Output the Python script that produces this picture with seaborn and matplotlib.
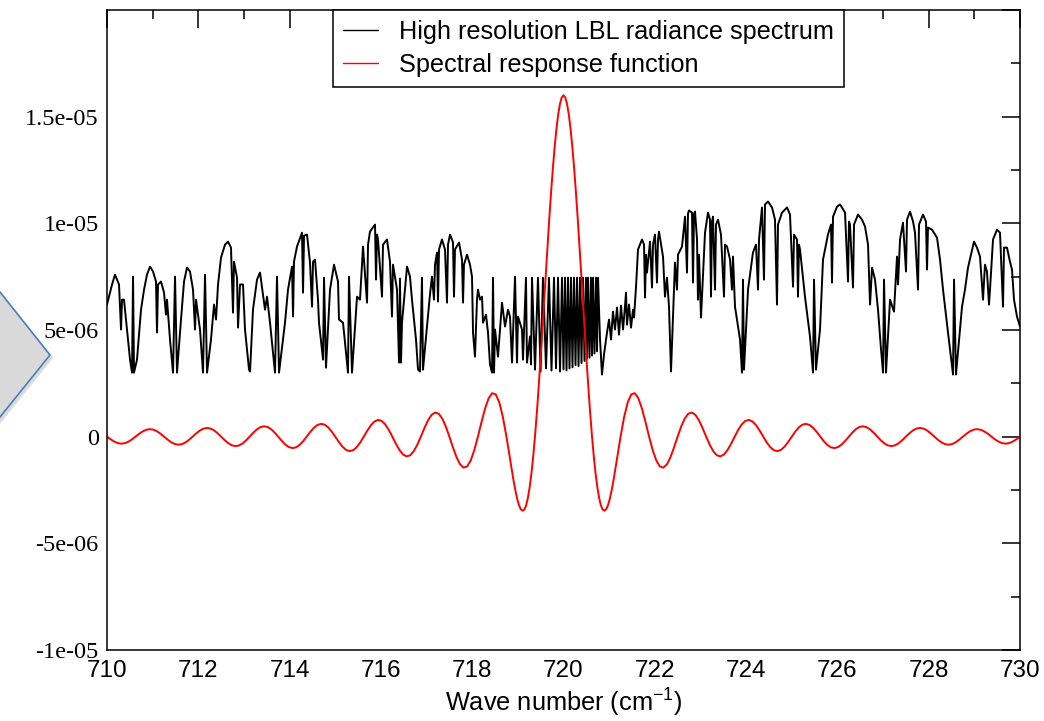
import matplotlib
matplotlib.use("Agg")
import matplotlib.pyplot as plt
import seaborn as sns
import pandas as pd
from matplotlib.patches import Polygon
from matplotlib.ticker import MultipleLocator, FixedLocator, FixedFormatter

# ---------------- data ----------------
# High resolution LBL radiance spectrum: wave number (cm-1) and radiance (units of 1e-6)
lbl_wn = [
    710.000, 710.110, 710.175, 710.263, 710.307, 710.329, 710.372, 710.438, 710.504, 710.548,
    710.570, 710.591, 710.657, 710.745, 710.811, 710.876, 710.942, 711.008, 711.073, 711.095,
    711.117, 711.183, 711.249, 711.292, 711.314, 711.380, 711.446, 711.490, 711.533, 711.621,
    711.687, 711.752, 711.818, 711.884, 711.928, 711.950, 712.037, 712.103, 712.147, 712.191,
    712.278, 712.344, 712.388, 712.432, 712.497, 712.585, 712.651, 712.716, 712.760, 712.782,
    712.848, 712.870, 712.914, 712.979, 713.023, 713.111, 713.133, 713.198, 713.286, 713.352,
    713.461, 713.505, 713.571, 713.680, 713.724, 713.768, 713.899, 713.965, 714.053, 714.075,
    714.096, 714.162, 714.272, 714.294, 714.316, 714.381, 714.447, 714.491, 714.513, 714.556,
    714.622, 714.644, 714.732, 714.754, 714.797, 714.885, 714.973, 715.060, 715.082, 715.170,
    715.279, 715.301, 715.367, 715.477, 715.542, 715.608, 715.696, 715.718, 715.761, 715.871,
    715.893, 715.915, 715.937, 716.024, 716.046, 716.134, 716.199, 716.243, 716.265, 716.353,
    716.397, 716.418, 716.440, 716.462, 716.572, 716.637, 716.681, 716.703,
    716.769, 716.813, 716.856, 716.900, 716.922, 717.010, 717.075, 717.119, 717.163, 717.185,
    717.229, 717.251, 717.273, 717.338, 717.404, 717.448, 717.470, 717.514, 717.580, 717.601,
    717.623, 717.711, 717.777, 717.799, 717.820, 717.886, 717.952, 717.996, 718.018, 718.061,
    718.105, 718.127, 718.171, 718.215, 718.237, 718.302, 718.346, 718.390, 718.434, 718.456,
    718.478, 718.500, 718.565, 718.653, 718.719, 718.784, 718.828, 718.872, 718.938, 718.981,
    719.003, 719.091, 719.113, 719.178, 719.200, 719.266, 719.288,
    719.310, 719.376, 719.441, 719.497, 719.551, 719.617, 719.682, 719.737, 719.792, 719.836,
    719.880, 719.924, 719.967, 720.000, 720.033, 720.066, 720.099, 720.131, 720.164, 720.197,
    720.230, 720.263, 720.296, 720.329, 720.362, 720.394, 720.427, 720.460, 720.493, 720.515,
    720.537, 720.570, 720.602, 720.625, 720.646, 720.679, 720.712, 720.734, 720.756,
    720.800, 720.843, 720.887, 720.953, 720.997, 721.041, 721.084, 721.128, 721.172, 721.216,
    721.260, 721.304, 721.347, 721.369, 721.391, 721.435, 721.479, 721.523, 721.545, 721.589,
    721.632, 721.720, 721.764, 721.786, 721.807, 721.829, 721.895, 721.939, 721.961, 722.004,
    722.048, 722.070, 722.092, 722.180, 722.223, 722.267, 722.311, 722.355, 722.399, 722.442,
    722.486, 722.508, 722.596, 722.662, 722.705, 722.727, 722.749, 722.815, 722.837, 722.859,
    722.881, 722.925, 722.946, 722.968, 723.012,
    723.100, 723.165, 723.209, 723.231, 723.253, 723.275, 723.319, 723.341, 723.385, 723.450,
    723.516, 723.538, 723.582, 723.648, 723.691, 723.713, 723.757, 723.867, 723.910, 723.932,
    723.954, 724.042, 724.151, 724.217, 724.261, 724.283, 724.348, 724.392, 724.414, 724.480,
    724.568, 724.633, 724.677, 724.699, 724.787, 724.896, 724.962, 725.028, 725.050, 725.115,
    725.137, 725.159, 725.181, 725.290, 725.400, 725.466, 725.488, 725.531, 725.619, 725.685,
    725.794, 725.860, 725.882, 725.904, 725.992, 726.057, 726.101, 726.167, 726.233, 726.254,
    726.276, 726.342, 726.364, 726.452, 726.539, 726.605, 726.671, 726.715, 726.759, 726.824,
    726.890, 726.956, 727.000, 727.021, 727.065, 727.153, 727.240, 727.306, 727.328, 727.372,
    727.437, 727.503, 727.525, 727.591, 727.657, 727.700, 727.766, 727.788, 727.876, 727.941,
    727.963, 727.985, 728.073, 728.182, 728.248, 728.314, 728.423, 728.533, 728.555, 728.598,
    728.730, 728.795, 728.861, 728.927, 728.993, 729.058, 729.124, 729.190, 729.233, 729.277,
    729.321, 729.343, 729.409, 729.496, 729.562, 729.628, 729.650, 729.715, 729.781, 729.825,
    729.869, 729.934, 730.000,
]
lbl_rad = [
    6.19, 7.13, 7.59, 7.13, 5.02, 6.42, 6.42, 5.02, 3.61, 3.00,
    7.50, 3.00, 3.61, 5.95, 6.89, 7.59, 7.97, 7.74, 7.27, 4.88,
    7.13, 7.27, 6.75, 5.72, 6.42, 4.55, 3.00, 7.50, 3.00, 5.49,
    7.27, 7.92, 7.74, 6.89, 5.02, 6.42, 5.02, 3.00, 7.59, 3.00,
    4.55, 6.19, 5.49, 7.13, 8.39, 9.00, 9.14, 8.86, 5.81, 8.20,
    7.45, 5.11, 7.13, 7.13, 5.02, 3.14, 3.05, 5.95, 7.36, 7.69,
    5.95, 6.56, 5.34, 3.00, 7.50, 3.00, 5.34, 6.89, 7.97, 5.63,
    8.20, 8.91, 9.56, 6.75, 9.42, 9.47, 8.16, 6.09, 8.20, 8.30,
    6.42, 5.34, 3.61, 7.45, 3.23, 6.89, 8.06, 7.27, 5.49, 5.34,
    3.00, 7.50, 3.00, 6.56, 6.42, 8.91, 6.28, 9.00, 9.61, 9.94,
    7.36, 9.47, 9.24, 6.56, 9.00, 9.24, 8.20, 5.63, 8.06, 6.89,
    3.47, 7.41, 3.47, 5.34, 7.97, 7.50, 6.42, 5.95,
    4.55, 3.14, 3.05, 7.45, 3.14, 5.16, 6.66, 7.50, 6.42, 8.06,
    8.63, 6.33, 8.77, 9.24, 8.77, 6.28, 9.00, 9.47, 9.10, 6.56,
    8.77, 9.10, 8.30, 6.28, 8.06, 8.53, 8.06, 7.50, 4.88, 3.75,
    6.42, 6.89, 6.42, 6.56, 5.34, 5.72, 4.88, 3.38, 3.00, 7.45,
    3.00, 5.02, 3.75, 6.28, 5.16, 5.95, 5.63, 3.47, 7.50, 3.47,
    5.63, 5.02, 3.61, 7.45, 3.47, 4.69, 3.38,
    7.45, 3.14, 7.45, 3.05, 7.45, 3.20, 7.45, 3.10, 7.45, 3.20,
    7.45, 3.05, 7.45, 3.15, 7.45, 3.10, 7.45, 3.20, 7.45, 3.25,
    7.45, 3.35, 7.45, 3.30, 7.45, 3.45, 7.45, 3.55, 7.45, 3.65,
    7.45, 3.70, 7.45, 3.80, 7.45, 3.90, 7.45, 4.00, 7.45,
    4.55, 2.91, 3.84, 4.88, 5.49, 4.55, 5.86, 5.02, 6.05, 4.78,
    6.14, 5.02, 6.09, 6.75, 5.25, 6.19, 5.11, 5.95, 5.58, 7.03,
    8.77, 9.24, 9.00, 6.52, 8.53, 7.69, 9.14, 6.99, 9.00, 9.47,
    7.22, 9.24, 9.61, 8.44, 6.56, 7.45, 6.09, 3.05, 5.63, 8.16,
    6.89, 8.53, 8.91, 10.31, 7.69, 10.45, 10.60, 10.50, 7.22, 10.45,
    10.55, 9.24, 6.42, 8.53, 5.58,
    9.56, 10.50, 10.17, 6.56, 10.08, 10.31, 6.89, 9.94, 10.17, 9.47,
    6.56, 9.00, 8.91, 8.30, 6.89, 8.44, 6.09, 4.55, 3.00, 7.36,
    3.14, 6.89, 8.63, 9.00, 6.89, 9.24, 10.74, 7.36, 10.88, 11.02,
    10.74, 10.17, 6.19, 9.94, 10.50, 10.74, 10.41, 7.03, 9.47, 9.24,
    6.56, 9.00, 8.77, 6.56, 4.69, 3.00, 7.36, 3.14, 5.02, 8.30,
    9.47, 9.94, 7.22, 10.31, 10.78, 10.88, 10.74, 10.50, 7.27, 10.08,
    9.94, 6.99, 9.94, 10.41, 10.17, 9.85, 9.00, 6.19, 7.92, 7.36,
    5.95, 4.08, 3.00, 7.36, 3.00, 6.42, 5.86, 8.44, 7.13, 9.24,
    10.03, 7.74, 10.17, 10.55, 10.08, 9.56, 6.89, 9.94, 10.41, 10.08,
    7.83, 9.80, 9.70, 9.33, 8.30, 6.89, 4.88, 2.91, 7.36, 2.91,
    6.09, 6.89, 7.92, 8.53, 9.14, 8.86, 8.44, 6.42, 8.06, 7.74,
    6.19, 6.89, 9.24, 9.70, 9.56, 6.09, 8.86, 8.86, 8.20, 7.83,
    6.42, 5.63, 5.16,
]

# Spectral response function: symmetric about its centre; offsets (cm-1) and values (units of 1e-6)
srf_center = 720.0
srf_offset = [
    0.0, 0.039, 0.078, 0.117, 0.156, 0.195, 0.234, 0.273, 0.3125, 0.352,
    0.391, 0.430, 0.469, 0.508, 0.547, 0.586, 0.625, 0.664, 0.703, 0.742,
    0.781, 0.820, 0.859, 0.898, 0.9375, 0.977, 1.016, 1.055, 1.094, 1.133,
    1.172, 1.211, 1.25,
    1.328, 1.406, 1.484, 1.5625, 1.641, 1.719, 1.797, 1.875,
    1.953, 2.031, 2.109, 2.1875, 2.266, 2.344, 2.422, 2.5,
    2.578, 2.656, 2.734, 2.8125, 2.891, 2.969, 3.047, 3.125,
    3.203, 3.281, 3.359, 3.4375, 3.516, 3.594, 3.672, 3.75,
    3.828, 3.906, 3.984, 4.0625, 4.141, 4.219, 4.297, 4.375,
    4.453, 4.531, 4.609, 4.6875, 4.766, 4.844, 4.922, 5.0,
    5.078, 5.156, 5.234, 5.3125, 5.391, 5.469, 5.547, 5.625,
    5.703, 5.781, 5.859, 5.9375, 6.016, 6.094, 6.172, 6.25,
    6.328, 6.406, 6.484, 6.5625, 6.641, 6.719, 6.797, 6.875,
    6.953, 7.031, 7.109, 7.1875, 7.266, 7.344, 7.422, 7.5,
    7.578, 7.656, 7.734, 7.8125, 7.891, 7.969, 8.047, 8.125,
    8.203, 8.281, 8.359, 8.4375, 8.516, 8.594, 8.672, 8.75,
    8.828, 8.906, 8.984, 9.0625, 9.141, 9.219, 9.297, 9.375,
    9.453, 9.531, 9.609, 9.6875, 9.766, 9.844, 9.922, 10.0,
]
srf_val = [
    16.00, 15.90, 15.59, 15.09, 14.40, 13.55, 12.55, 11.42, 10.19, 8.88,
    7.53, 6.16, 4.80, 3.48, 2.23, 1.06, 0.0, -0.94, -1.73, -2.38,
    -2.88, -3.23, -3.42, -3.47, -3.40, -3.20, -2.90, -2.51, -2.06, -1.56,
    -1.04, -0.51, 0.0,
    0.917, 1.601, 1.981, 2.037, 1.793, 1.310, 0.678, 0.0,
    -0.624, -1.108, -1.394, -1.455, -1.298, -0.960, -0.503, 0.0,
    0.472, 0.847, 1.075, 1.132, 1.017, 0.758, 0.400, 0.0,
    -0.380, -0.686, -0.875, -0.926, -0.836, -0.626, -0.332, 0.0,
    0.318, 0.576, 0.738, 0.784, 0.710, 0.533, 0.283, 0.0,
    -0.274, -0.497, -0.638, -0.679, -0.617, -0.465, -0.247, 0.0,
    0.240, 0.436, 0.562, 0.599, 0.546, 0.412, 0.220, 0.0,
    -0.214, -0.389, -0.502, -0.536, -0.489, -0.369, -0.197, 0.0,
    0.192, 0.351, 0.454, 0.485, 0.443, 0.335, 0.179, 0.0,
    -0.175, -0.320, -0.414, -0.443, -0.405, -0.306, -0.164, 0.0,
    0.161, 0.294, 0.380, 0.407, 0.373, 0.282, 0.151, 0.0,
    -0.149, -0.272, -0.352, -0.377, -0.345, -0.262, -0.140, 0.0,
    0.138, 0.253, 0.327, 0.351, 0.322, 0.244, 0.131, 0.0,
    -0.129, -0.236, -0.306, -0.329, -0.301, -0.229, -0.123, 0.0,
]
unit = 1e-6

series_names = ["High resolution LBL radiance spectrum", "Spectral response function"]
x_ticks = [710, 712, 714, 716, 718, 720, 722, 724, 726, 728, 730]
x_tick_labels = ["710", "712", "714", "716", "718", "720", "722", "724", "726", "728", "730"]
y_ticks = [-1e-05, -5e-06, 0.0, 5e-06, 1e-05, 1.5e-05, 2e-05]
y_tick_labels = ["-1e-05", "-5e-06", "0", "5e-06", "1e-05", "1.5e-05", ""]
x_label = "Wave number (cm$^{\\mathregular{-1}}$)"

# ---------------- tables ----------------
lbl_df = pd.DataFrame({"wn": lbl_wn, "val": [v * unit for v in lbl_rad]})
srf_x = [srf_center - o for o in reversed(srf_offset)] + [srf_center + o for o in srf_offset[1:]]
srf_y = [v * unit for v in reversed(srf_val)] + [v * unit for v in srf_val[1:]]
srf_df = pd.DataFrame({"wn": srf_x, "val": srf_y})

# ---------------- style ----------------
sns.set_style("white")
plt.rcParams["font.family"] = ["Liberation Sans", "DejaVu Sans"]
plt.rcParams["mathtext.fontset"] = "custom"
plt.rcParams["mathtext.rm"] = "Liberation Sans"
plt.rcParams["mathtext.it"] = "Liberation Sans:italic"
plt.rcParams["axes.unicode_minus"] = False
plt.rcParams["axes.linewidth"] = 1.1
plt.rcParams["text.color"] = "black"
plt.rcParams["axes.labelcolor"] = "black"
plt.rcParams["xtick.color"] = "black"
plt.rcParams["ytick.color"] = "black"
plt.rcParams["lines.solid_joinstyle"] = "round"

fig = plt.figure(figsize=(10.44, 7.21), dpi=100)
fig.patch.set_facecolor("white")
ax = fig.add_axes([0.1025, 0.0985, 0.8745, 0.8877])

sns.lineplot(data=lbl_df, x="wn", y="val", ax=ax, color="black", linewidth=1.4,
             sort=False, estimator=None, label=series_names[0])
sns.lineplot(data=srf_df, x="wn", y="val", ax=ax, color="#ff0000", linewidth=1.4,
             sort=False, estimator=None, label=series_names[1])

ax.set_xlim(710, 730)
ax.set_ylim(-1e-05, 2e-05)

ax.xaxis.set_major_locator(FixedLocator(x_ticks))
ax.xaxis.set_major_formatter(FixedFormatter(x_tick_labels))
ax.xaxis.set_minor_locator(MultipleLocator(1))
ax.yaxis.set_major_locator(FixedLocator(y_ticks))
ax.yaxis.set_major_formatter(FixedFormatter(y_tick_labels))
ax.yaxis.set_minor_locator(MultipleLocator(2.5e-06))

ax.tick_params(which="both", direction="in", top=True, right=True, width=1.1,
               color="black", labelcolor="black")
ax.tick_params(which="major", length=13)
ax.tick_params(which="minor", length=6.5)
ax.tick_params(axis="x", which="major", labelsize=17.5, pad=7)
ax.tick_params(axis="y", which="major", labelsize=17.5, pad=6)
for lab in ax.get_yticklabels():
    lab.set_fontfamily(["Liberation Serif", "DejaVu Serif"])

for sp in ax.spines.values():
    sp.set_color("black")
    sp.set_linewidth(1.1)

ax.set_xlabel(x_label, fontsize=18.3, labelpad=4, color="black")
ax.set_ylabel("")

leg = ax.legend(loc="upper left", bbox_to_anchor=(0.2475, 1.0), borderaxespad=0,
                frameon=True, fancybox=False, edgecolor="black", framealpha=1,
                fontsize=18.2, handlelength=1.4, handletextpad=0.8, borderpad=0.4,
                labelspacing=0.35)
leg.get_frame().set_linewidth(1.1)
for t in leg.get_texts():
    t.set_color("black")
for ln in leg.get_lines():
    ln.set_linewidth(1.0)

# slide callout shape partly visible at the left edge
shadow = Polygon([(-0.0096 + 0.003, 0.6125 - 0.004), (0.0479 + 0.003, 0.5076 - 0.004),
                  (-0.0096 + 0.003, 0.4044 - 0.004)], closed=True, transform=fig.transFigure,
                 facecolor="#9a9a9a", edgecolor="none", alpha=0.35, zorder=0)
callout = Polygon([(-0.0096, 0.6125), (0.0479, 0.5076), (-0.0096, 0.4044)], closed=True,
                  transform=fig.transFigure, facecolor="#d9d9d9", edgecolor="#4a7ebb",
                  linewidth=1.2, zorder=1)
fig.patches.extend([shadow, callout])

fig.savefig("out.png", dpi=100, facecolor="white")
